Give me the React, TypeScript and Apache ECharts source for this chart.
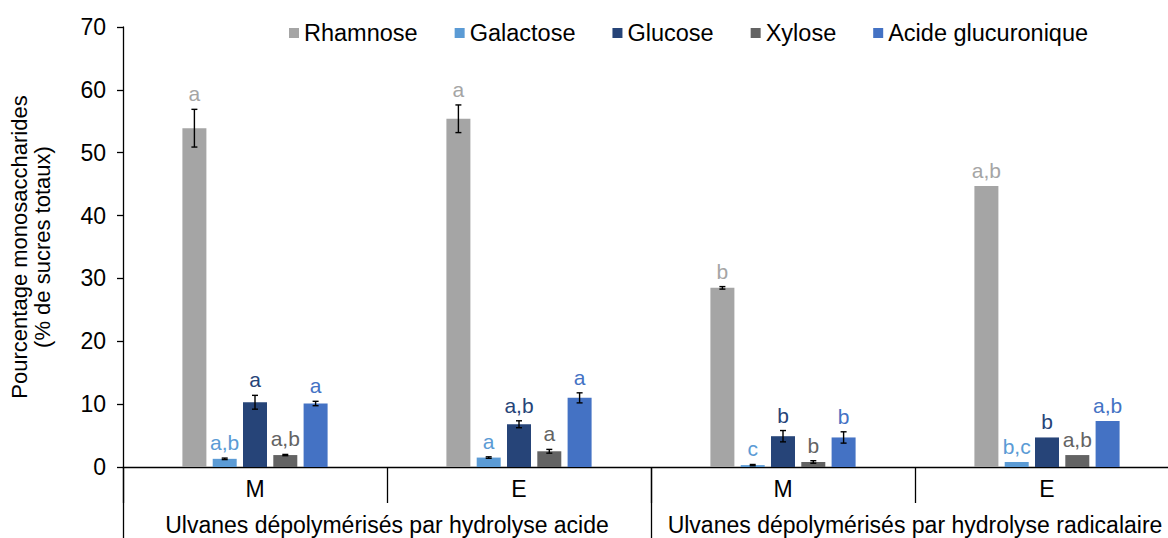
import React, { useEffect, useRef } from "react";
import * as echarts from "echarts";

const categories = ["M", "E", "M", "E"];
const groups = [
  "Ulvanes dépolymérisés par hydrolyse acide",
  "Ulvanes dépolymérisés par hydrolyse radicalaire",
];
const seriesNames = ["Rhamnose", "Galactose", "Glucose", "Xylose", "Acide glucuronique"];

const rhamnose = [53.9, 55.4, 28.5, 44.7];
const galactose = [1.3, 1.5, 0.3, 0.8];
const glucose = [10.3, 6.8, 4.9, 4.7];
const xylose = [1.9, 2.5, 0.8, 1.9];
const acide = [10.1, 11.0, 4.7, 7.3];

const rhamnoseErr = [3.0, 2.2, 0.2, 0];
const galactoseErr = [0.12, 0.12, 0.1, 0];
const glucoseErr = [1.1, 0.55, 0.9, 0];
const xyloseErr = [0.1, 0.3, 0.2, 0];
const acideErr = [0.35, 0.8, 0.9, 0];

const rhamnoseLetters = ["a", "a", "b", "a,b"];
const galactoseLetters = ["a,b", "a", "c", "b,c"];
const glucoseLetters = ["a", "a,b", "b", "b"];
const xyloseLetters = ["a,b", "a", "b", "a,b"];
const acideLetters = ["a", "a", "b", "a,b"];

const yTicks = { min: 0, max: 70, interval: 10 };

const colors = ["#A5A5A5", "#5B9BD5", "#264478", "#636363", "#4472C4"];
const values = [rhamnose, galactose, glucose, xylose, acide];
const errs = [rhamnoseErr, galactoseErr, glucoseErr, xyloseErr, acideErr];
const letters = [rhamnoseLetters, galactoseLetters, glucoseLetters, xyloseLetters, acideLetters];

const FONT = '"Liberation Sans", Arial, Helvetica, sans-serif';
const BAR_W = 24;
const BAR_GAP = 6.3;
const STEP = BAR_W + BAR_GAP;

export default function App() {
  const ref = useRef<HTMLDivElement>(null);
  useEffect(() => {
    if (!ref.current) return;
    const chart = echarts.init(ref.current, null, { renderer: "svg" });

    const barSeries = seriesNames.map((name, i) => ({
      type: "bar",
      name,
      data: values[i],
      barWidth: BAR_W,
      barGap: (BAR_GAP / BAR_W) * 100 + "%",
      itemStyle: { color: colors[i] },
      xAxisIndex: 0,
      yAxisIndex: 0,
    }));

    const errSeries = seriesNames.map((name, i) => ({
      type: "custom",
      name: name + " (err)",
      xAxisIndex: 0,
      yAxisIndex: 0,
      z: 10,
      silent: true,
      data: values[i].map((v, k) => [k, v, errs[i][k]]),
      renderItem: (params: any, api: any) => {
        const cat = api.value(0);
        const v = api.value(1);
        const e = api.value(2);
        const x = api.coord([cat, v])[0] + (i - 2) * STEP;
        const top = api.coord([cat, v + e])[1];
        const bot = api.coord([cat, v - e])[1];
        const children: any[] = [];
        const ls = { stroke: "#000", lineWidth: 1.4 };
        if (e > 0) {
          children.push({ type: "line", shape: { x1: x, y1: top, x2: x, y2: bot }, style: ls });
          children.push({ type: "line", shape: { x1: x - 3, y1: top, x2: x + 3, y2: top }, style: ls });
          children.push({ type: "line", shape: { x1: x - 3, y1: bot, x2: x + 3, y2: bot }, style: ls });
        }
        children.push({
          type: "text",
          style: {
            text: letters[i][params.dataIndex],
            x,
            y: top - 5,
            align: "center",
            verticalAlign: "bottom",
            fill: colors[i],
            fontSize: 21,
            fontFamily: FONT,
          },
        });
        return { type: "group", children };
      },
    }));

    chart.setOption({
      animation: false,
      textStyle: { fontFamily: FONT },
      legend: {
        data: seriesNames,
        left: 284,
        top: 16,
        itemWidth: 10,
        itemHeight: 10,
        itemGap: 37,
        icon: "rect",
        textStyle: { fontSize: 23.5, color: "#000", fontFamily: FONT },
      },
      grid: { left: 123, right: 0, top: 27, bottom: 71 },
      xAxis: [
        {
          type: "category",
          data: categories,
          position: "bottom",
          axisLine: { lineStyle: { color: "#000", width: 1.3 } },
          axisTick: { show: true, interval: 0, length: 36, lineStyle: { color: "#000", width: 1.3 } },
          axisLabel: { fontSize: 23, color: "#000", margin: 10, interval: 0 },
        },
        {
          type: "category",
          data: groups,
          position: "bottom",
          axisLine: { show: false },
          axisTick: { show: true, interval: 0, length: 71, lineStyle: { color: "#000", width: 1.3 } },
          axisLabel: { fontSize: 23, color: "#000", margin: 46, interval: 0 },
        },
      ],
      yAxis: {
        type: "value",
        min: yTicks.min,
        max: yTicks.max,
        interval: yTicks.interval,
        name: "Pourcentage monosaccharides\n(% de sucres totaux)",
        nameLocation: "middle",
        nameGap: 69,
        nameTextStyle: { fontSize: 22, color: "#000", lineHeight: 23 },
        axisLine: { show: true, lineStyle: { color: "#000", width: 1.3 } },
        axisTick: { show: true, length: 6, lineStyle: { color: "#000", width: 1.3 } },
        axisLabel: { fontSize: 23, color: "#000", margin: 17 },
        splitLine: { show: false },
      },
      series: [...barSeries, ...errSeries],
    });
    return () => chart.dispose();
  }, []);
  return (
    <div
      style={{ position: "absolute", left: 0, top: 0, width: 1168, height: 538, overflow: "hidden" }}
    >
      <div ref={ref} style={{ width: 1179, height: 538 }} />
    </div>
  );
}
